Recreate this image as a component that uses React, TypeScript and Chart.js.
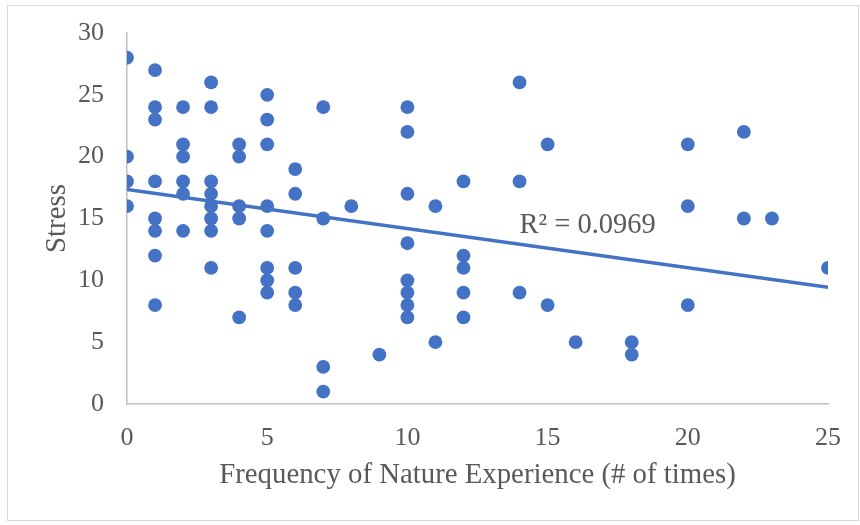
import React, { useEffect, useRef } from "react";
import { Chart, registerables } from "chart.js";

Chart.register(...registerables);

// Frequency of Nature Experience (# of times)
const natureX: number[] = [
  0, 0, 0, 0,
  1, 1, 1, 1, 1, 1, 1, 1,
  2, 2, 2, 2, 2, 2,
  3, 3, 3, 3, 3, 3, 3, 3,
  4, 4, 4, 4, 4,
  5, 5, 5, 5, 5, 5, 5, 5,
  6, 6, 6, 6, 6,
  7, 7, 7, 7,
  8,
  9,
  10, 10, 10, 10, 10, 10, 10, 10,
  11, 11,
  12, 12, 12, 12, 12,
  14, 14, 14,
  15, 15,
  16,
  18, 18,
  20, 20, 20,
  22, 22,
  23,
  25,
];

// Stress
const stressY: number[] = [
  28, 20, 18, 16,
  27, 24, 23, 18, 15, 14, 12, 8,
  24, 21, 20, 18, 17, 14,
  26, 24, 18, 17, 16, 15, 14, 11,
  21, 20, 16, 15, 7,
  25, 23, 21, 16, 14, 11, 10, 9,
  19, 17, 11, 9, 8,
  24, 15, 3, 1,
  16,
  4,
  24, 22, 17, 13, 10, 9, 8, 7,
  16, 5,
  18, 12, 11, 9, 7,
  26, 18, 9,
  21, 8,
  5,
  5, 4,
  21, 16, 8,
  22, 15,
  15,
  11,
];

// Linear trend line end points
const trendX: number[] = [0, 25];
const trendY: number[] = [17.35, 9.43];

const r2Text = "R\u00B2 = 0.0969";
const r2AtX = 14.0;
const r2AtY = 14.45;

const xTitle = "Frequency of Nature Experience (# of times)";
const yTitle = "Stress";

const BLUE = "#4472C4";
const TEXT = "#595959";
const AXIS = "#bfbfbf";
const FONT = "'Liberation Serif', 'Times New Roman', serif";

export default function App() {
  const canvasRef = useRef<HTMLCanvasElement | null>(null);

  useEffect(() => {
    const canvas = canvasRef.current;
    if (!canvas) return;

    const points = natureX.map((x, i) => ({ x, y: stressY[i] }));
    const trend = trendX.map((x, i) => ({ x, y: trendY[i] }));

    const r2Plugin = {
      id: "r2Label",
      afterDatasetsDraw(chart: any) {
        const { ctx, scales } = chart;
        const px = scales.x.getPixelForValue(r2AtX);
        const py = scales.y.getPixelForValue(r2AtY);
        ctx.save();
        ctx.font = `28.5px ${FONT}`;
        ctx.fillStyle = TEXT;
        ctx.textAlign = "left";
        ctx.textBaseline = "middle";
        ctx.fillText(r2Text, px, py);
        ctx.restore();
      },
    };

    const chart = new Chart(canvas, {
      type: "scatter",
      data: {
        datasets: [
          {
            type: "line",
            label: "Trend",
            data: trend,
            borderColor: BLUE,
            borderWidth: 3.5,
            pointRadius: 0,
            fill: false,
            order: 0,
          } as any,
          {
            label: "Stress",
            data: points,
            backgroundColor: BLUE,
            borderColor: BLUE,
            borderWidth: 0,
            pointRadius: 6.9,
            order: 1,
          },
        ],
      },
      options: {
        responsive: false,
        animation: false,
        devicePixelRatio: 1,
        layout: { padding: { left: 36, top: 33, right: 32, bottom: 28 } },
        plugins: {
          legend: { display: false },
          tooltip: { enabled: false },
        },
        scales: {
          x: {
            type: "linear",
            min: 0,
            max: 25,
            offset: false,
            grid: {
              display: true,
              drawOnChartArea: false,
              drawTicks: true,
              tickLength: 17,
              tickColor: "rgba(0,0,0,0)",
            },
            border: { display: true, color: AXIS, width: 1.5 },
            ticks: {
              stepSize: 5,
              color: TEXT,
              padding: 2,
              font: { family: FONT, size: 26 },
            },
            title: {
              display: true,
              text: xTitle,
              color: TEXT,
              font: { family: FONT, size: 28.8 },
              padding: { top: 4, bottom: 4 },
            },
            afterFit(scale: any) {
              scale.height = 93;
            },
          },
          y: {
            type: "linear",
            min: 0,
            max: 30,
            grid: {
              display: true,
              drawOnChartArea: false,
              drawTicks: true,
              tickLength: 20,
              tickColor: "rgba(0,0,0,0)",
            },
            border: { display: true, color: AXIS, width: 1.5 },
            ticks: {
              stepSize: 5,
              color: TEXT,
              padding: 3,
              font: { family: FONT, size: 26 },
            },
            title: {
              display: true,
              text: yTitle,
              color: TEXT,
              font: { family: FONT, size: 28.8 },
              padding: { top: 4, bottom: 4 },
            },
            afterFit(scale: any) {
              scale.width = 91;
            },
          },
        },
      },
      plugins: [r2Plugin],
    });

    return () => {
      chart.destroy();
    };
  }, []);

  return (
    <div
      style={{
        position: "fixed",
        left: 0,
        top: 0,
        width: 860,
        height: 525,
        background: "#ffffff",
        overflow: "hidden",
      }}
    >
      <div
        style={{
          position: "absolute",
          left: 7,
          top: 5,
          width: 852,
          height: 516,
          border: "1px solid #d9d9d9",
          boxSizing: "border-box",
        }}
      />
      <canvas
        ref={canvasRef}
        width={860}
        height={525}
        style={{ position: "absolute", left: 0, top: 0, width: 860, height: 525 }}
      />
    </div>
  );
}
